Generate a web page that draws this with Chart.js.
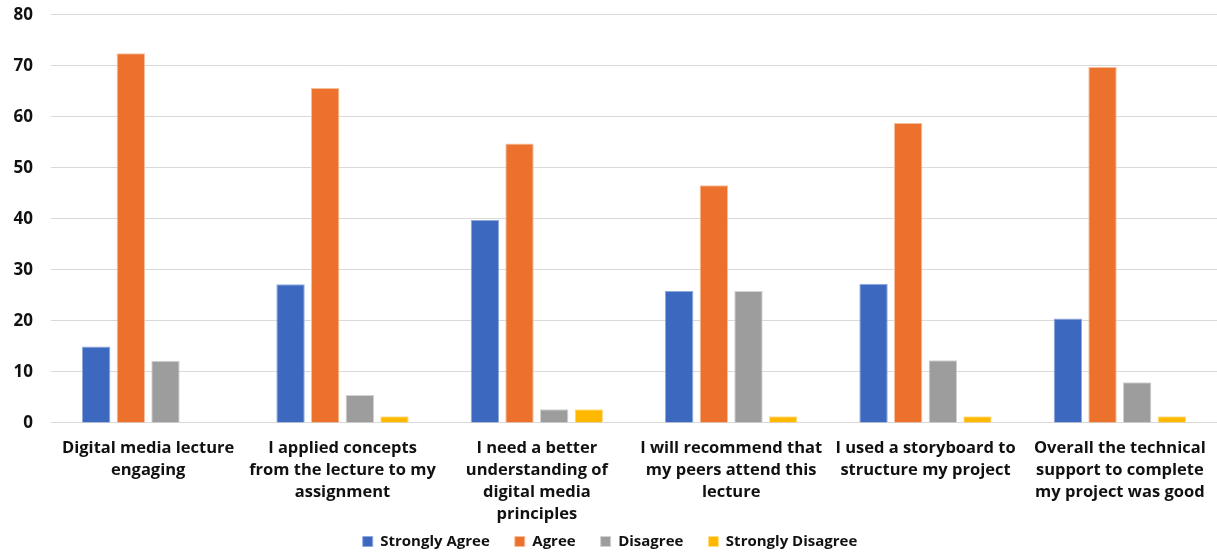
<!DOCTYPE html>
<html>
<head>
<meta charset="utf-8">
<script src="https://cdn.jsdelivr.net/npm/chart.js@4/dist/chart.umd.min.js"></script>
<style>
  html, body { margin: 0; padding: 0; background: #fff; }
  #wrap { width: 1217px; height: 554px; position: relative; }
</style>
</head>
<body>
<div id="wrap"><canvas id="surveyChart"></canvas></div>
<script>
// Câu hỏi khảo sát (nhãn trục X, xuống dòng như bản gốc)
const questions = [
    ['Digital media lecture', 'engaging'],
    ['I applied concepts', 'from the lecture to my', 'assignment'],
    ['I need a better', 'understanding of', 'digital media', 'principles'],
    ['I will recommend that', 'my peers attend this', 'lecture'],
    ['I used a storyboard to', 'structure my project'],
    ['Overall the technical', 'support to complete', 'my project was good']
];

// Giá trị từng nhóm trả lời
const stronglyAgree    = [15.0, 27.2, 39.8, 25.9, 27.3, 20.5];
const agree            = [72.5, 65.7, 54.8, 46.6, 58.8, 69.8];
const disagree         = [12.2, 5.5, 2.7, 25.9, 12.3, 8.0];
const stronglyDisagree = [0, 1.3, 2.7, 1.3, 1.3, 1.3];

// Trục Y
const yTicks = [0, 10, 20, 30, 40, 50, 60, 70, 80];

const fontFamily = '"Open Sans", Lato, sans-serif';

function makeSet(label, data, color, border) {
    return {
        label: label,
        data: data,
        backgroundColor: color,
        borderColor: border,
        borderWidth: 1,
        categoryPercentage: 0.713,
        barPercentage: 0.82
    };
}

// Chú thích: thu nhỏ chiều cao, rồi kéo mép trên lên (giữ mép dưới để không bị cắt chữ)
const legendTweak = {
    id: 'legendTweak',
    beforeUpdate: function (chart) {
        const lg = chart.legend;
        if (lg && !lg._tweaked) {
            const origFit = lg.fit;
            lg.fit = function () {
                origFit.call(this);
                this.height = 31;
            };
            lg._tweaked = true;
        }
    },
    afterLayout: function (chart) {
        const lg = chart.legend;
        if (lg) {
            lg.top -= 14;
            lg.height += 14;
        }
    }
};

const ctx = document.getElementById('surveyChart');
new Chart(ctx, {
    type: 'bar',
    data: {
        labels: questions,
        datasets: [
            makeSet('Strongly Agree', stronglyAgree, '#3C69BF', '#8FA9DD'),
            makeSet('Agree', agree, '#EB712D', '#F7BE9C'),
            makeSet('Disagree', disagree, '#9D9D9D', '#D2D2D2'),
            makeSet('Strongly Disagree', stronglyDisagree, '#FFB800', '#FFDF8C')
        ]
    },
    plugins: [legendTweak],
    options: {
        responsive: true,
        maintainAspectRatio: false,
        animation: false,
        layout: { padding: { top: 0, right: -3, bottom: 0, left: 0 } },
        plugins: {
            legend: {
                position: 'bottom',
                labels: {
                    boxWidth: 10,
                    boxHeight: 10,
                    padding: 25,
                    color: '#111',
                    font: { family: fontFamily, size: 15, weight: 'bold' }
                }
            },
            tooltip: { enabled: false }
        },
        scales: {
            y: {
                min: 0,
                max: 80,
                afterBuildTicks: function (axis) {
                    axis.ticks = yTicks.map(v => ({ value: v }));
                },
                afterFit: function (axis) { axis.width = 51; },
                border: { display: false },
                grid: {
                    color: '#D9D9D9',
                    lineWidth: 1,
                    drawTicks: true,
                    tickLength: 18,
                    tickColor: 'rgba(0,0,0,0)'
                },
                ticks: {
                    padding: 0,
                    color: '#111',
                    font: { family: fontFamily, size: 17, weight: 'bold', lineHeight: 1.76 }
                }
            },
            x: {
                border: { display: true, color: '#D9D9D9' },
                grid: { display: false },
                afterFit: function (axis) { axis.height = 100; },
                ticks: {
                    maxRotation: 0,
                    autoSkip: false,
                    padding: 6,
                    color: '#111',
                    font: { family: fontFamily, size: 16.5, weight: 'bold', lineHeight: 1.34 }
                }
            }
        }
    }
});
</script>
</body>
</html>
